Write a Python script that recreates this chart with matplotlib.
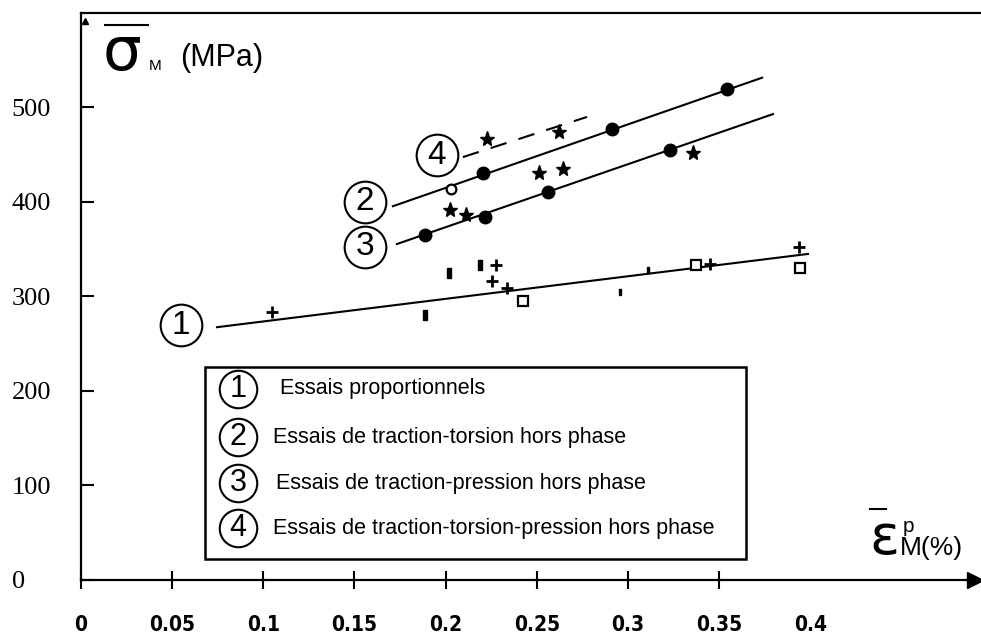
import matplotlib.pyplot as plt
from matplotlib.lines import Line2D
from matplotlib.patches import Rectangle

# --- donnees ---
# (1) essais proportionnels
plus_x = [0.105, 0.2255, 0.2276, 0.2337, 0.345, 0.394]
plus_y = [283, 316, 333, 308.5, 334, 352]
barre_x = [0.1887, 0.2019, 0.2189]
barre_y = [280, 324, 333]
carre_x = [0.2425, 0.3374, 0.3944]
carre_y = [295, 333, 330]
point_x = [0.2957, 0.311]
point_y = [304, 327.5]
droite1_x = [0.0746, 0.3988]
droite1_y = [267, 344.5]

# (2) traction-torsion hors phase
cercle_x = [0.203]
cercle_y = [413]
rond2_x = [0.2205, 0.2913, 0.3544]
rond2_y = [430, 477, 519]
droite2_x = [0.1711, 0.3736]
droite2_y = [395, 531]

# (3) traction-pression hors phase
rond3_x = [0.1887, 0.2216, 0.2562, 0.3231]
rond3_y = [364.5, 383.5, 410, 454.5]
droite3_x = [0.1733, 0.3796]
droite3_y = [355, 492.5]

# (4) traction-torsion-pression hors phase
etoile_x = [0.2024, 0.2112, 0.2512, 0.2644, 0.3357, 0.2227, 0.2622]
etoile_y = [391, 385.5, 430, 434.5, 451, 466, 473.5]
droite4_x = [0.2095, 0.2776]
droite4_y = [447, 489.5]

# etiquettes cerclees sur le graphe
numeros = ["1", "2", "3", "4"]
num_x = [0.0549, 0.1558, 0.1558, 0.1953]
num_y = [269, 399.5, 352, 449]

legende = ["Essais proportionnels",
           "Essais de traction-torsion hors phase",
           "Essais de traction-pression hors phase",
           "Essais de traction-torsion-pression hors phase"]

xticks = [0, 0.05, 0.1, 0.15, 0.2, 0.25, 0.3, 0.35, 0.4]
xlabels = ["0", "0.05", "0.1", "0.15", "0.2", "0.25", "0.3", "0.35", "0.4"]
yticks = [0, 100, 200, 300, 400, 500]

W, H = 981, 638
fig = plt.figure(figsize=(W / 100, H / 100), dpi=100)
ax = fig.add_axes([81 / W, 1 - 579.5 / H, 900 / W, 566.5 / H])
ax.set_xlim(0, 900 / 1823)
ax.set_ylim(0, 566.5 / 0.945)

for s in ["left", "bottom", "top"]:
    ax.spines[s].set_linewidth(1.6)
ax.spines["right"].set_visible(False)
ax.plot(0.993, 0, marker=">", ms=11, color="k", transform=ax.transAxes, clip_on=False)
ax.plot(0.0045, 0.985, marker="^", ms=5, color="k", transform=ax.transAxes, clip_on=False)

# droites
lw = 1.5
ax.plot(droite1_x, droite1_y, color="k", lw=lw)
ax.plot(droite2_x, droite2_y, color="k", lw=lw)
ax.plot(droite3_x, droite3_y, color="k", lw=lw)
ax.plot(droite4_x, droite4_y, color="k", lw=lw, linestyle=(0, (8, 6)))

# points
barre = [(-0.45, -1), (0.45, -1), (0.45, 1), (-0.45, 1), (-0.45, -1)]
ellipse = [(-0.4, -1), (0.4, -1), (0.4, 1), (-0.4, 1), (-0.4, -1)]
ax.plot(plus_x, plus_y, "+", color="k", ms=8, mew=2, ls="none")
ax.plot(barre_x, barre_y, marker=barre, color="k", ms=7, ls="none")
ax.plot(carre_x, carre_y, "s", mfc="white", mec="k", ms=7, mew=1.6, ls="none")
ax.plot(point_x, point_y, marker=ellipse, color="k", ms=4, ls="none")
ax.plot(cercle_x, cercle_y, "o", mfc="white", mec="k", ms=7, mew=1.6, ls="none")
ax.plot(rond2_x, rond2_y, "o", color="k", ms=9, ls="none")
ax.plot(rond3_x, rond3_y, "o", color="k", ms=9, ls="none")
ax.plot(etoile_x, etoile_y, "*", color="k", ms=11, ls="none")

# numeros cercles
for n, x, y in zip(numeros, num_x, num_y):
    ax.plot(x, y, "o", ms=30, mfc="white", mec="k", mew=1.5)
    ax.text(x, y, n, ha="center", va="center", fontsize=24, family="Liberation Sans")

# boite de legende
ax.add_patch(Rectangle((0.1378, 0.0362), 0.6011, 0.3389, transform=ax.transAxes,
                       fill=False, lw=1.8, ec="k"))
rang_y = [0.3363, 0.2515, 0.1703, 0.0909]
texte_x = [0.2211, 0.2133, 0.2167, 0.2133]
for n, t, y, tx in zip(numeros, legende, rang_y, texte_x):
    ax.plot(0.1744, y, "o", ms=27, mfc="white", mec="k", mew=1.5, transform=ax.transAxes)
    ax.text(0.1744, y, n, ha="center", va="center", fontsize=22,
            family="Liberation Sans", transform=ax.transAxes)
    ax.text(tx, y, t, ha="left", va="center", fontsize=15.5,
            family="Liberation Sans", transform=ax.transAxes)

# graduations
ax.set_xticks(xticks)
ax.set_xticklabels(xlabels, fontsize=15, fontweight="bold", fontstretch="condensed",
                   family="DejaVu Sans")
ax.tick_params(axis="x", direction="inout", length=13, width=1.5, pad=19)
ax.xaxis.get_major_ticks()[-1].tick1line.set_visible(False)
ax.set_yticks(yticks)
ax.set_yticklabels([str(v) for v in yticks], fontsize=19, family="Liberation Serif")
ax.tick_params(axis="y", direction="in", length=9, width=1.5, pad=50)
for lab in ax.get_yticklabels():
    lab.set_ha("left")


def px(x, y):
    return x / W, 1 - y / H


# titre axe y
fig.text(*px(103, 70), "σ", fontsize=44, family="DejaVu Sans", va="baseline")
fig.text(*px(149, 70), "M", fontsize=11, family="Liberation Sans", va="baseline")
fig.text(*px(180, 66), "(MPa)", fontsize=22, family="Liberation Sans", va="baseline")
fig.add_artist(Line2D([105 / W, 148 / W], [1 - 25 / H, 1 - 25 / H], color="k", lw=1.5))

# titre axe x
fig.text(*px(869, 554), "ε", fontsize=40, family="DejaVu Sans", va="baseline")
fig.text(*px(903, 532), "p", fontsize=15, family="Liberation Sans", va="baseline")
fig.text(*px(900, 555), "M(%)", fontsize=19, family="Liberation Sans", va="baseline")
fig.add_artist(Line2D([870 / W, 886 / W], [1 - 509 / H, 1 - 509 / H], color="k", lw=1.5))

fig.savefig("out.png", dpi=100)
